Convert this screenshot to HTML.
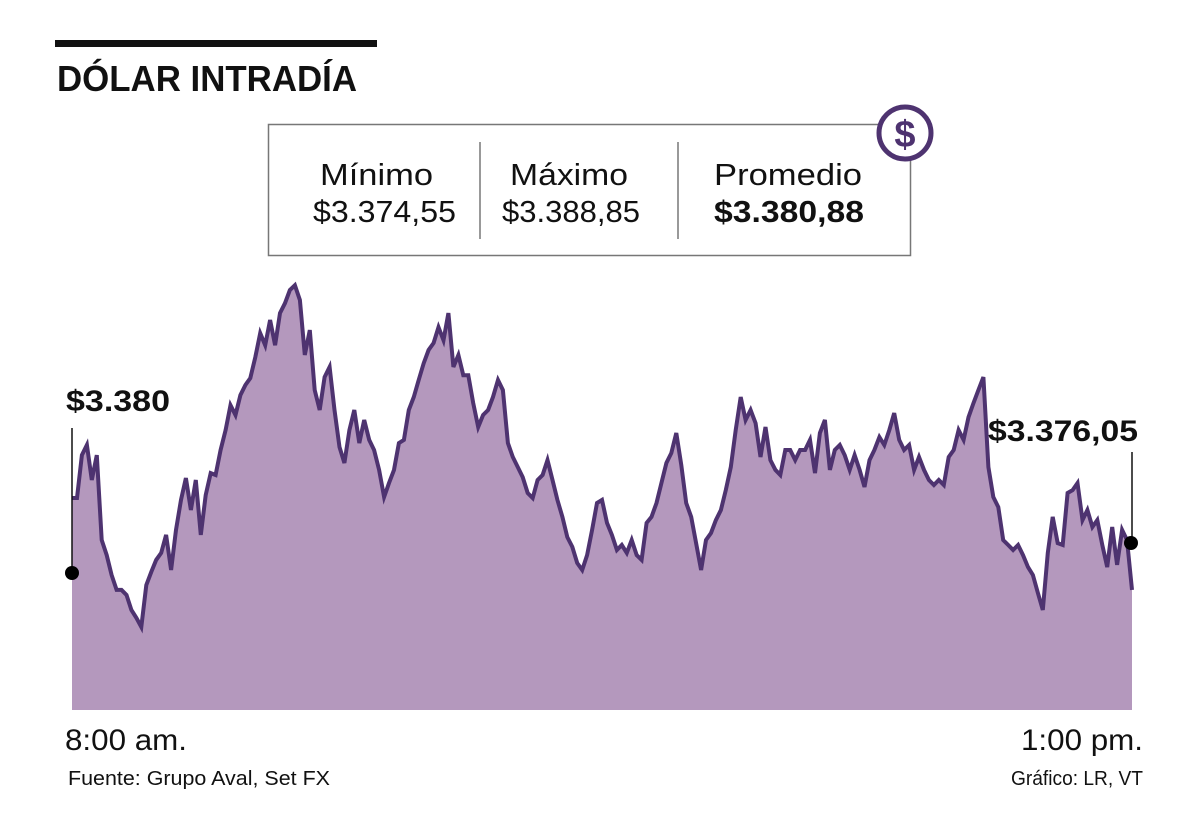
<!DOCTYPE html>
<html><head><meta charset="utf-8"><style>
html,body{margin:0;padding:0;background:#fff;}
svg{display:block;font-family:"Liberation Sans",sans-serif;}
</style></head><body>
<svg id="chart" width="1200" height="830" viewBox="0 0 1200 830">
<rect x="55" y="40" width="322" height="7" fill="#111"/>
<text x="57" y="91" font-size="36" font-weight="bold" fill="#111" textLength="300" lengthAdjust="spacingAndGlyphs">DÓLAR INTRADÍA</text>
<g>
<rect x="268.5" y="124.5" width="642" height="131" fill="#fff" stroke="#777" stroke-width="1.5"/>
<line x1="480" y1="142" x2="480" y2="239" stroke="#777" stroke-width="1.5"/>
<line x1="678" y1="142" x2="678" y2="239" stroke="#777" stroke-width="1.5"/>
<text x="320" y="185" font-size="31" fill="#111" textLength="113" lengthAdjust="spacingAndGlyphs">Mínimo</text>
<text x="313" y="222" font-size="31" fill="#111" textLength="143" lengthAdjust="spacingAndGlyphs">$3.374,55</text>
<text x="510" y="185" font-size="31" fill="#111" textLength="118" lengthAdjust="spacingAndGlyphs">Máximo</text>
<text x="502" y="222" font-size="31" fill="#111" textLength="138" lengthAdjust="spacingAndGlyphs">$3.388,85</text>
<text x="714" y="185" font-size="31" fill="#111" textLength="148" lengthAdjust="spacingAndGlyphs">Promedio</text>
<text x="714" y="222" font-size="31" font-weight="bold" fill="#111" textLength="150" lengthAdjust="spacingAndGlyphs">$3.380,88</text>
</g>
<g>
<circle cx="905" cy="133" r="26" fill="#fff" stroke="#4e3370" stroke-width="5"/>
<text x="905" y="147" font-size="38" font-weight="bold" fill="#4e3370" text-anchor="middle">$</text>
</g>
<g id="plot"></g>
<text x="66" y="411" font-size="30" font-weight="bold" fill="#111" textLength="104" lengthAdjust="spacingAndGlyphs">$3.380</text>
<text x="988" y="441" font-size="30" font-weight="bold" fill="#111" textLength="150" lengthAdjust="spacingAndGlyphs">$3.376,05</text>
<text x="65" y="750" font-size="30" fill="#111" textLength="122" lengthAdjust="spacingAndGlyphs">8:00 am.</text>
<text x="1143" y="750" font-size="30" fill="#111" text-anchor="end" textLength="122" lengthAdjust="spacingAndGlyphs">1:00 pm.</text>
<text x="68" y="785" font-size="20" fill="#111" textLength="262" lengthAdjust="spacingAndGlyphs">Fuente: Grupo Aval, Set FX</text>
<text x="1143" y="785" font-size="20" fill="#111" text-anchor="end" textLength="132" lengthAdjust="spacingAndGlyphs">Gráfico: LR, VT</text>
</svg>
<script>
const prices = [3379.97,3379.97,3381.76,3382.18,3380.72,3381.76,3378.22,3377.59,3376.76,3376.14,3376.14,3375.93,3375.30,3374.97,3374.59,3376.34,3376.89,3377.39,3377.68,3378.43,3376.97,3378.64,3379.89,3380.80,3379.47,3380.72,3378.43,3380.09,3381.01,3380.93,3381.97,3382.80,3383.84,3383.43,3384.26,3384.68,3384.97,3385.84,3386.84,3386.34,3387.39,3386.34,3387.68,3388.09,3388.64,3388.84,3388.22,3385.93,3386.97,3384.47,3383.64,3385.01,3385.43,3383.64,3382.09,3381.43,3382.80,3383.64,3382.26,3383.22,3382.39,3381.97,3381.14,3380.01,3380.59,3381.14,3382.26,3382.39,3383.64,3384.18,3384.89,3385.59,3386.14,3386.43,3387.09,3386.55,3387.68,
3385.43,3385.93,3385.09,3385.09,3383.93,3382.93,3383.43,3383.64,3384.18,3384.89,3384.47,3382.26,3381.68,3381.26,3380.84,3380.18,3379.97,3380.72,3380.93,3381.55,3380.72,3379.89,3379.18,3378.34,3377.93,3377.26,3376.97,3377.59,3378.64,3379.76,3379.89,3378.93,3378.43,3377.80,3378.01,3377.68,3378.22,3377.59,3377.39,3378.93,3379.18,3379.76,3380.59,3381.43,3381.84,3382.68,3381.34,3379.76,3379.18,3378.09,3376.97,3378.22,3378.51,3379.05,3379.47,3380.30,3381.26,3382.80,3384.18,3383.22,3383.64,3383.09,3381.68,3382.93,3381.55,3381.14,3380.93,3381.97,3381.97,3381.55,3381.97,3381.97,3382.39,
3381.01,3382.68,3383.22,3381.14,3381.97,3382.18,3381.76,3381.14,3381.76,3381.14,3380.43,3381.55,3381.97,3382.51,3382.18,3382.80,3383.51,3382.39,3381.97,3382.18,3381.14,3381.68,3381.14,3380.72,3380.51,3380.72,3380.51,3381.68,3381.97,3382.80,3382.39,3383.34,3383.93,3384.47,3385.01,3381.26,3380.01,3379.59,3378.22,3378.01,3377.80,3378.01,3377.59,3377.09,3376.76,3376.01,3375.30,3377.68,3379.18,3378.09,3378.01,3380.18,3380.30,3380.59,3379.05,3379.47,3378.76,3379.05,3378.01,3377.09,3378.76,3377.18,3378.64,3378.22,3376.14];
const yDomain = [3374.55, 3388.85];
const xLabels = ["8:00 am.", "1:00 pm."];

const X0 = 72, X1 = 1132, Y0 = 628, Y1 = 285, BASE = 710;
function xs(i){ return X0 + (X1 - X0) * i / (prices.length - 1); }
function ys(v){ return Y0 + (Y1 - Y0) * (v - yDomain[0]) / (yDomain[1] - yDomain[0]); }
const NS = "http://www.w3.org/2000/svg";
const g = document.getElementById("plot");
let d = "";
prices.forEach((v,i)=>{ d += (i ? "L" : "M") + xs(i).toFixed(1) + "," + ys(v).toFixed(1); });
const area = document.createElementNS(NS,"path");
area.setAttribute("d", d + "L" + X1 + "," + BASE + "L" + X0 + "," + BASE + "Z");
area.setAttribute("fill", "#b498bd");


g.appendChild(area);
const line = document.createElementNS(NS,"path");
line.setAttribute("d", d);
line.setAttribute("fill", "none");
line.setAttribute("stroke", "#4e3370");
line.setAttribute("stroke-width", "4");


g.appendChild(line);
function mk(tag, attrs){ const e = document.createElementNS(NS, tag); for (const k in attrs) e.setAttribute(k, attrs[k]); g.appendChild(e); return e; }
const l1 = mk("line",{x1:72,y1:428,x2:72,y2:572,stroke:"#111","stroke-width":1.5});


const l2 = mk("line",{x1:1132,y1:452,x2:1132,y2:543,stroke:"#111","stroke-width":1.5});


const c1 = mk("circle",{cx:72,cy:573,r:7,fill:"#000"});


const c2 = mk("circle",{cx:1131,cy:543,r:7,fill:"#000"});


</script>
</body></html>
